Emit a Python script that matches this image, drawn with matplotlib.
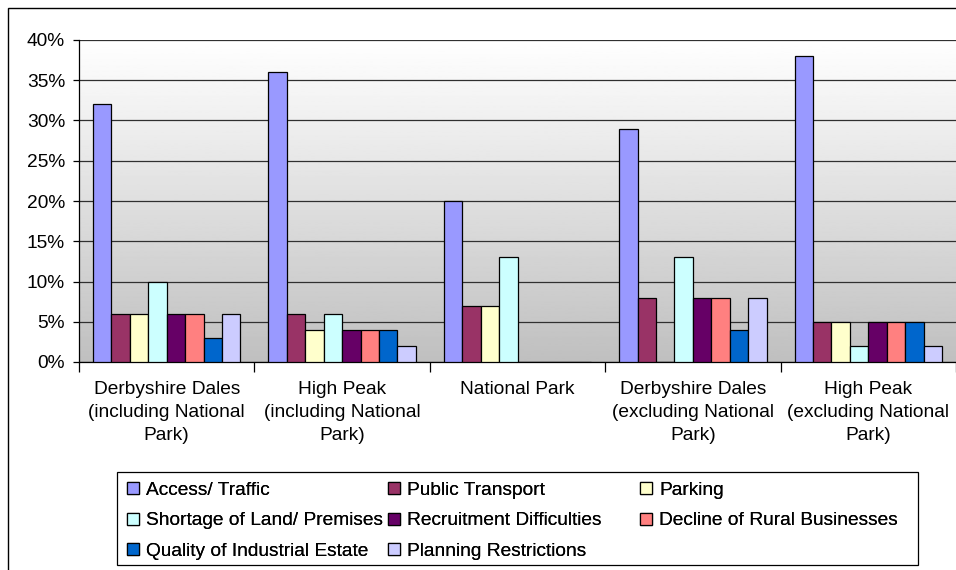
import numpy as np
import matplotlib.pyplot as plt
from matplotlib.patches import Rectangle

plt.rcParams['font.family'] = ['Liberation Sans', 'DejaVu Sans']

categories = ['Derbyshire Dales\n(including National\nPark)',
              'High Peak\n(including National\nPark)',
              'National Park',
              'Derbyshire Dales\n(excluding National\nPark)',
              'High Peak\n(excluding National\nPark)']

series_names = ['Access/ Traffic', 'Public Transport', 'Parking',
                'Shortage of Land/ Premises', 'Recruitment Difficulties',
                'Decline of Rural Businesses', 'Quality of Industrial Estate',
                'Planning Restrictions']

access_traffic = [32, 36, 20, 29, 38]
public_transport = [6, 6, 7, 8, 5]
parking = [6, 4, 7, 0, 5]
shortage_land = [10, 6, 13, 13, 2]
recruitment = [6, 4, 0, 8, 5]
decline_rural = [6, 4, 0, 8, 5]
quality_estate = [3, 4, 0, 4, 5]
planning = [6, 2, 0, 8, 2]

series_values = [access_traffic, public_transport, parking, shortage_land,
                 recruitment, decline_rural, quality_estate, planning]

colors = ['#9999FF', '#993366', '#FFFFCC', '#CCFFFF',
          '#660066', '#FF8080', '#0066CC', '#CCCCFF']

FS = 13.8
W, H = 956, 570

fig = plt.figure(figsize=(9.56, 5.7), dpi=100)
ax = fig.add_axes([79 / W, 1 - 362 / H, 877 / W, 322 / H])

# gradient background
grad = np.linspace(1.0, 0.75, 256).reshape(-1, 1)
ax.imshow(grad, cmap='gray', vmin=0, vmax=1, aspect='auto',
          extent=[-0.5, 4.5, 0, 40], zorder=0)

x = np.arange(len(categories))
n = len(series_values)
width = 0.84 / n
bars = []
for i, vals in enumerate(series_values):
    pos = x - 0.42 + width * (i + 0.5)
    b = ax.bar(pos, vals, width, color=colors[i], edgecolor='black',
               linewidth=0.9, label=series_names[i], zorder=3)
    bars.append(b)

ax.set_xlim(-0.5, 4.5)
ax.set_ylim(0, 40)
ax.set_yticks(np.arange(0, 41, 5))
ax.set_yticklabels([f'{v}%' for v in range(0, 41, 5)], fontsize=FS)
ax.yaxis.grid(True, color='#303030', linewidth=0.9, zorder=1)
ax.set_axisbelow(True)

ax.set_xticks(x)
ax.set_xticklabels(categories, fontsize=FS, linespacing=1.45)
ax.set_xticks(np.arange(-0.5, 5, 1), minor=True)
ax.tick_params(axis='x', which='major', length=0, pad=14)
ax.tick_params(axis='x', which='minor', length=7, width=0.9)
ax.tick_params(axis='y', length=4, width=0.9, pad=6)

for s in ['top', 'right']:
    ax.spines[s].set_visible(False)
for s in ['left', 'bottom']:
    ax.spines[s].set_linewidth(0.9)

# legend frame
fig.patches.append(Rectangle((117 / W, 1 - 565 / H), 801 / W, 93 / H,
                             transform=fig.transFigure, fill=False,
                             edgecolor='black', linewidth=0.9))

# legend columns, Excel lays them out row-wise
columns = [[0, 3, 6], [1, 4, 7], [2, 5]]
col_x = [127, 388, 640]
for idx, cx in zip(columns, col_x):
    leg = fig.legend([bars[i] for i in idx], [series_names[i] for i in idx],
                     loc='upper left', bbox_to_anchor=(cx / W, 1 - 482 / H),
                     fontsize=FS, frameon=False, handlelength=0.6,
                     handleheight=0.6, handletextpad=0.4, labelspacing=0.7,
                     borderaxespad=0, borderpad=0)
    fig.add_artist(leg)

# outer chart border
fig.patches.append(Rectangle((8 / W, -0.05), 1.1, 1 - 8 / H + 0.05,
                             transform=fig.transFigure, fill=False,
                             edgecolor='black', linewidth=1))

plt.savefig('out.png', dpi=100)
